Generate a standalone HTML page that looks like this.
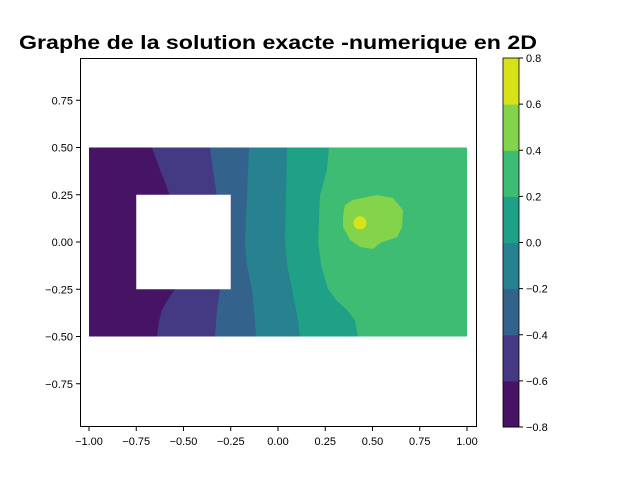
<!DOCTYPE html>
<html><head><meta charset="utf-8"><style>
body{margin:0;background:#fff;}
svg text{font-family:"Liberation Sans","DejaVu Sans",sans-serif;}
</style></head><body>
<svg id="c" width="640" height="480" xmlns="http://www.w3.org/2000/svg"></svg>
<script>
const levels=[-0.8,-0.6,-0.4,-0.2,0,0.2,0.4,0.6,0.8];
const bandColors=["#471365","#443a83","#33638d","#27818e","#1fa187","#3fbc73","#84d44b","#d9e219"];
const xTicks=[-1,-0.75,-0.5,-0.25,0,0.25,0.5,0.75,1];
const yTicks=[-0.75,-0.5,-0.25,0,0.25,0.5,0.75];
// contour boundaries in data coords [x,y], top to bottom
const b1=[[-0.667,0.5],[-0.645,0.44],[-0.624,0.381],[-0.595,0.31],[-0.571,0.243],[-0.545,-0.249],[-0.58,-0.3],[-0.614,-0.36],[-0.63,-0.42],[-0.64,-0.5]];
const b2=[[-0.36,0.5],[-0.344,0.381],[-0.323,0.243],[-0.249,0.243],[-0.249,-0.249],[-0.307,-0.249],[-0.323,-0.36],[-0.333,-0.5]];
const b3=[[-0.153,0.5],[-0.159,0.381],[-0.164,0.243],[-0.175,0],[-0.165,-0.12],[-0.138,-0.249],[-0.122,-0.413],[-0.116,-0.5]];
const b4=[[0.048,0.5],[0.042,0.243],[0.037,0],[0.05,-0.13],[0.074,-0.249],[0.106,-0.413],[0.116,-0.5]];
const b5=[[0.27,0.5],[0.259,0.381],[0.222,0.243],[0.212,0],[0.23,-0.13],[0.265,-0.249],[0.31,-0.31],[0.365,-0.36],[0.407,-0.413],[0.423,-0.5]];
const blob=[[0.354,0.196],[0.397,0.222],[0.524,0.249],[0.608,0.233],[0.661,0.169],[0.656,0.079],[0.63,0.026],[0.54,-0.005],[0.503,-0.037],[0.434,-0.026],[0.381,0.011],[0.344,0.079],[0.344,0.132]];
const peak=[0.434,0.101];
const hole=[-0.75,-0.25,0.25,-0.25];
const X=v=>278+189*v, Y=v=>242-189*v;
const svg=document.getElementById('c');const NS="http://www.w3.org/2000/svg";
function mk(t,a,p){const e=document.createElementNS(NS,t);for(const k in a)e.setAttribute(k,a[k]);(p||svg).appendChild(e);return e;}
function poly(b){return b.map(p=>X(p[0])+","+Y(p[1])).join(" ");}
function band(b,col,name){
  const pts=poly(b)+" "+X(1)+","+Y(-0.5)+" "+X(1)+","+Y(0.5);
  const e=mk('polygon',{points:pts,fill:col});
  
  
}
let r=mk('rect',{x:X(-1),y:Y(0.5),width:X(1)-X(-1),height:Y(-0.5)-Y(0.5),fill:bandColors[0]});

band(b1,bandColors[1],'band-1');band(b2,bandColors[2],'band-2');band(b3,bandColors[3],'band-3');band(b4,bandColors[4],'band-4');band(b5,bandColors[5],'band-5');
let bl=mk('polygon',{points:poly(blob),fill:bandColors[6]});

let pk=mk('circle',{cx:X(peak[0]),cy:Y(peak[1]),r:6.5,fill:bandColors[7]});

let h=mk('rect',{x:X(hole[0]),y:Y(hole[2]),width:X(hole[1])-X(hole[0]),height:Y(hole[3])-Y(hole[2]),fill:"#fff"});

let fr=mk('rect',{x:80.5,y:58.5,width:396,height:368,fill:"none",stroke:"#000","stroke-width":1});

xTicks.forEach(v=>{const x=X(v);mk('line',{x1:x,x2:x,y1:427,y2:431,stroke:"#000"});
 const t=mk('text',{x:x,y:445,"font-size":"11","text-anchor":"middle"});t.textContent=v.toFixed(2).replace('-','\u2212');
 });
yTicks.forEach(v=>{const y=Y(v);mk('line',{x1:76,x2:80,y1:y,y2:y,stroke:"#000"});
 const t=mk('text',{x:73,y:y+4,"font-size":"11","text-anchor":"end"});t.textContent=v.toFixed(2).replace('-','\u2212');
 });
const CB=v=>427-(v+0.8)/1.6*369;
for(let i=0;i<bandColors.length;i++){const e=mk('rect',{x:503,y:CB(levels[i+1]),width:16,height:CB(levels[i])-CB(levels[i+1])+0.5,fill:bandColors[i]});
 }
mk('rect',{x:503,y:58,width:16,height:369,fill:"none",stroke:"#000","stroke-width":0.8});
levels.forEach(v=>{const y=CB(v);mk('line',{x1:519,x2:523,y1:y,y2:y,stroke:"#000"});
 const t=mk('text',{x:526,y:y+4,"font-size":"11"});t.textContent=v.toFixed(1).replace('-','\u2212');
 });
const ti=mk('text',{x:19,y:49,"font-size":"19","font-weight":"bold",textLength:"518",lengthAdjust:"spacingAndGlyphs"});
ti.textContent="Graphe de la solution exacte -numerique en 2D";

</script>
</body></html>
